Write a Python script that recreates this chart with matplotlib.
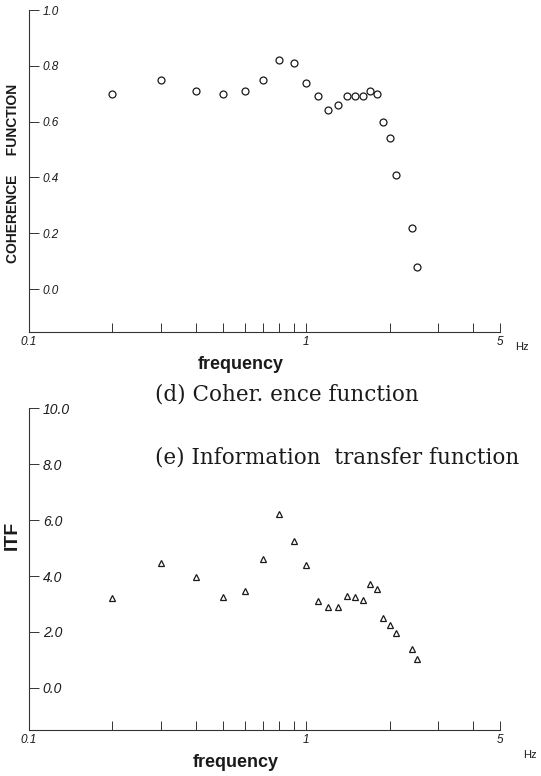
import matplotlib
matplotlib.use("Agg")
import matplotlib.pyplot as plt
from matplotlib.ticker import FixedLocator, NullFormatter

# frequency grid (Hz), shared by both panels
freq = [0.2, 0.3, 0.4, 0.5, 0.6, 0.7, 0.8, 0.9, 1.0, 1.1, 1.2,
        1.3, 1.4, 1.5, 1.6, 1.7, 1.8, 1.9, 2.0, 2.1, 2.4, 2.5]

coherence = [0.70, 0.75, 0.71, 0.70, 0.71, 0.75, 0.82, 0.81, 0.74, 0.69, 0.64,
             0.66, 0.69, 0.69, 0.69, 0.71, 0.70, 0.60, 0.54, 0.41, 0.22, 0.08]

itf = [3.2, 4.45, 3.95, 3.25, 3.45, 4.6, 6.2, 5.25, 4.4, 3.1, 2.9,
       2.9, 3.3, 3.25, 3.15, 3.7, 3.55, 2.5, 2.25, 1.95, 1.4, 1.05]

x_major = [0.1, 1, 5]
x_major_labels = ["0.1", "1", "5"]
x_minor = [0.2, 0.3, 0.4, 0.5, 0.6, 0.7, 0.8, 0.9, 2, 3, 4]

coh_ticks = [0.0, 0.2, 0.4, 0.6, 0.8, 1.0]
coh_labels = ["0.0", "0.2", "0.4", "0.6", "0.8", "1.0"]
itf_ticks = [0.0, 2.0, 4.0, 6.0, 8.0, 10.0]
itf_labels = ["0.0", "2.0", "4.0", "6.0", "8.0", "10.0"]

INK = "#1a1a1a"
SANS = ["Liberation Sans", "DejaVu Sans"]
SERIF = ["DejaVu Serif"]


def style_axes(ax, yticks, ylabels, ylim, label_size, xlabel_x):
    ax.set_xscale("log")
    ax.set_xlim(0.1, 5)
    ax.set_ylim(*ylim)
    for side in ("top", "right"):
        ax.spines[side].set_visible(False)
    for side in ("left", "bottom"):
        ax.spines[side].set_linewidth(0.8)
        ax.spines[side].set_color("#333333")

    ax.xaxis.set_major_locator(FixedLocator(x_major))
    ax.set_xticklabels(x_major_labels, fontstyle="italic", family=SANS,
                       fontsize=8.5, color=INK)
    ax.xaxis.set_minor_locator(FixedLocator(x_minor))
    ax.xaxis.set_minor_formatter(NullFormatter())
    ax.tick_params(axis="x", which="both", direction="in", length=6.5,
                   width=0.7, color="#333333", pad=3)

    ax.set_yticks(yticks)
    ax.set_yticklabels(ylabels, fontstyle="italic", family=SANS,
                       fontsize=label_size, color=INK)
    ax.tick_params(axis="y", which="both", direction="in", length=7,
                   width=0.7, color="#333333", pad=-10)
    for lbl in ax.get_yticklabels():
        lbl.set_horizontalalignment("left")
    ax.yaxis.set_minor_locator(FixedLocator([]))

    ax.set_xlabel("frequency", family=SANS, fontweight="bold", fontsize=13,
                  color=INK)
    ax.xaxis.set_label_coords(xlabel_x, -0.075)


fig = plt.figure(figsize=(5.41, 7.76), dpi=100)

ax1 = fig.add_axes([0.0536, 0.5722, 0.8706, 0.4149])
ax1.plot(freq, coherence, linestyle="none", marker="o", markersize=5,
         markerfacecolor="white", markeredgecolor=INK, markeredgewidth=0.9)
style_axes(ax1, coh_ticks, coh_labels, (-0.154, 1.0), 8.5, 0.45)

ax2 = fig.add_axes([0.0536, 0.0593, 0.8706, 0.4149])
ax2.plot(freq, itf, linestyle="none", marker="^", markersize=4,
         markerfacecolor="white", markeredgecolor=INK, markeredgewidth=0.9)
style_axes(ax2, itf_ticks, itf_labels, (-1.5, 10.0), 10, 0.44)

# vertical axis titles sit in the narrow left margin
fig.text(0.024, 0.776, "COHERENCE     FUNCTION", family=SANS,
         fontweight="bold", fontsize=10, color=INK, rotation=90,
         ha="center", va="center")
fig.text(0.022, 0.31, "ITF", family=SANS, fontweight="bold", fontsize=14,
         color=INK, rotation=90, ha="center", va="center")

fig.text(0.965, 0.553, "Hz", family=SANS, fontsize=8, color=INK,
         ha="center", va="center")
fig.text(0.98, 0.027, "Hz", family=SANS, fontsize=8, color=INK,
         ha="center", va="center")

fig.text(0.2865, 0.491, "(d) Coher. ence function", family=SERIF,
         fontsize=15.5, color=INK, ha="left", va="center")
fig.text(0.2865, 0.41, "(e) Information  transfer function", family=SERIF,
         fontsize=15.5, color=INK, ha="left", va="center")

fig.savefig("out.png", dpi=100, facecolor="white")
